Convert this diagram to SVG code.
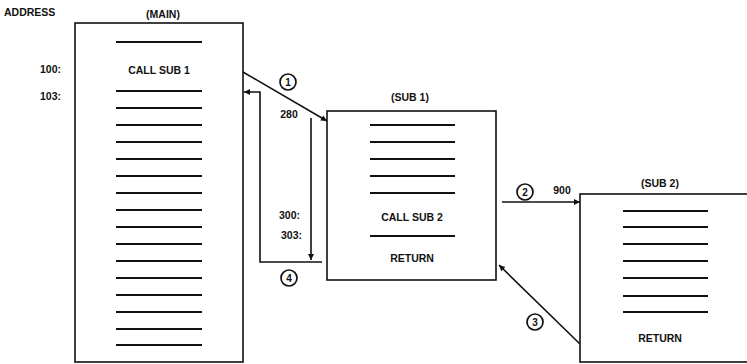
<svg xmlns="http://www.w3.org/2000/svg" width="747" height="364" viewBox="0 0 747 364">
<style>
text{font-family:"Liberation Sans",Arial,sans-serif;font-weight:bold;font-size:10.5px;fill:#111}
.m{text-anchor:middle}
.r{text-anchor:end}
.box{fill:#fff;stroke:#111;stroke-width:1.6}
.ln{stroke:#111;stroke-width:2}
.cn{fill:none;stroke:#111;stroke-width:1.6}
.c{fill:#fff;stroke:#111;stroke-width:1.7}
.n{font-size:10px}
</style>
<defs>
<marker id="ah" viewBox="0 0 10 10" refX="10" refY="5" markerWidth="9" markerHeight="6" markerUnits="userSpaceOnUse" orient="auto">
<path d="M0,0 L10,5 L0,10 z" fill="#111"/>
</marker>
</defs>
<text x="4" y="16">ADDRESS</text>
<text x="61" y="73" class="r">100:</text>
<text x="61" y="100" class="r">103:</text>
<g id="main">
<text x="163" y="18" class="m">(MAIN)</text>
<rect class="box" x="75" y="23" width="168" height="339"/>
<line class="ln" x1="116" y1="42" x2="202" y2="42"/>
<text x="159" y="74" class="m">CALL SUB 1</text>
<g class="ln">
<line x1="116" y1="91" x2="202" y2="91"/><line x1="116" y1="108" x2="202" y2="108"/>
<line x1="116" y1="125" x2="202" y2="125"/><line x1="116" y1="142" x2="202" y2="142"/>
<line x1="116" y1="159" x2="202" y2="159"/><line x1="116" y1="176" x2="202" y2="176"/>
<line x1="116" y1="193" x2="202" y2="193"/><line x1="116" y1="210" x2="202" y2="210"/>
<line x1="116" y1="227" x2="202" y2="227"/><line x1="116" y1="244" x2="202" y2="244"/>
<line x1="116" y1="261" x2="202" y2="261"/><line x1="116" y1="278" x2="202" y2="278"/>
<line x1="116" y1="295" x2="202" y2="295"/><line x1="116" y1="312" x2="202" y2="312"/>
<line x1="116" y1="329" x2="202" y2="329"/><line x1="116" y1="345" x2="202" y2="345"/>
</g>
</g>
<g id="sub1">
<text x="410" y="101" class="m">(SUB 1)</text>
<rect class="box" x="327" y="111" width="169" height="169"/>
<g class="ln">
<line x1="370" y1="125" x2="455" y2="125"/><line x1="370" y1="142" x2="455" y2="142"/>
<line x1="370" y1="159" x2="455" y2="159"/><line x1="370" y1="176" x2="455" y2="176"/>
<line x1="370" y1="193" x2="455" y2="193"/><line x1="370" y1="236" x2="455" y2="236"/>
</g>
<text x="412" y="221" class="m">CALL SUB 2</text>
<text x="412" y="262" class="m">RETURN</text>
</g>
<g id="sub2">
<text x="660" y="187" class="m">(SUB 2)</text>
<rect class="box" x="580" y="194" width="190" height="168"/>
<g class="ln">
<line x1="623" y1="211" x2="708" y2="211"/><line x1="623" y1="227" x2="708" y2="227"/>
<line x1="623" y1="244" x2="708" y2="244"/><line x1="623" y1="261" x2="708" y2="261"/>
<line x1="623" y1="278" x2="708" y2="278"/><line x1="623" y1="296" x2="708" y2="296"/>
<line x1="623" y1="312" x2="708" y2="312"/>
</g>
<text x="660" y="342" class="m">RETURN</text>
</g>
<g id="connectors">
<line class="cn" x1="243" y1="72" x2="327" y2="121" marker-end="url(#ah)"/>
<path class="cn" d="M322,262 H260 V92 H244" marker-end="url(#ah)"/>
<line class="cn" x1="311" y1="118" x2="311" y2="260" marker-end="url(#ah)"/>
<line class="cn" x1="502" y1="202" x2="580" y2="202" marker-end="url(#ah)"/>
<line class="cn" x1="580" y1="344" x2="499" y2="265" marker-end="url(#ah)"/>
<text x="289" y="118" class="m">280</text>
<text x="300" y="219" class="r">300:</text>
<text x="302" y="239" class="r">303:</text>
<text x="562" y="194" class="m">900</text>
<circle class="c" cx="288" cy="82" r="8"/><text x="288" y="85.6" class="m n">1</text>
<circle class="c" cx="525" cy="192" r="8"/><text x="525" y="195.6" class="m n">2</text>
<circle class="c" cx="535" cy="322" r="8"/><text x="535" y="325.6" class="m n">3</text>
<circle class="c" cx="289" cy="278" r="8"/><text x="289" y="281.6" class="m n">4</text>
</g>
</svg>
